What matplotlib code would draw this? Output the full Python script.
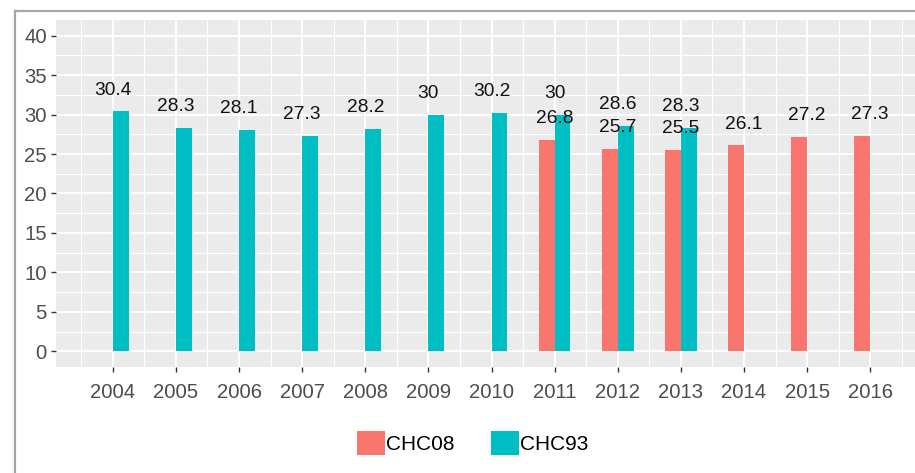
import matplotlib
matplotlib.use("Agg")
import matplotlib.pyplot as plt
from matplotlib.lines import Line2D
import numpy as np

# data
years_93 = [2004, 2005, 2006, 2007, 2008, 2009, 2010, 2011, 2012, 2013]
chc93 = [30.4, 28.3, 28.1, 27.3, 28.2, 30, 30.2, 30, 28.6, 28.3]
years_08 = [2011, 2012, 2013, 2014, 2015, 2016]
chc08 = [26.8, 25.7, 25.5, 26.1, 27.2, 27.3]
xticks = list(range(2004, 2017))
yticks = [0, 5, 10, 15, 20, 25, 30, 35, 40]

red = "#F8766D"
cyan = "#00BFC4"

plt.rcParams["font.family"] = ["Liberation Sans", "DejaVu Sans"]

W, H = 915, 473
fig = plt.figure(figsize=(W / 100, H / 100), dpi=100)
ax = fig.add_axes([55.7 / W, (H - 367) / H, (W - 55.7) / W, (367 - 20) / H])
ax.set_facecolor("#EBEBEB")

# grid
for x in xticks:
    ax.axvline(x, color="white", lw=1.4, zorder=0)
for x in np.arange(2003.5, 2017, 1):
    ax.axvline(x, color="white", lw=0.8, zorder=0)
for y in yticks:
    ax.axhline(y, color="white", lw=1.4, zorder=0)
for y in np.arange(-2.5, 42, 5):
    ax.axhline(y, color="white", lw=0.8, zorder=0)

b08 = ax.bar(np.array(years_08) - 0.125, chc08, width=0.25, color=red, zorder=2)
b93 = ax.bar(np.array(years_93) + 0.125, chc93, width=0.25, color=cyan, zorder=2)

for x, v in zip(years_93, chc93):
    ax.text(x, v + 2.7, f"{v:g}", ha="center", va="center", fontsize=13.8, color="#111111", zorder=3)
for x, v in zip(years_08, chc08):
    ax.text(x, v + 2.7, f"{v:g}", ha="center", va="center", fontsize=13.8, color="#111111", zorder=3)

ax.set_xlim(2003.095, 2016.71)
ax.set_ylim(-2, 42)
ax.set_xticks(xticks)
ax.set_xticklabels([str(x) for x in xticks])
ax.set_yticks(yticks)
ax.tick_params(axis="both", length=3.5, width=1, color="#333333", labelcolor="#4D4D4D",
               labelsize=14.6, pad=3)
ax.tick_params(axis="x", pad=8)
for s in ax.spines.values():
    s.set_visible(False)

fig.legend([b08, b93], ["CHC08", "CHC93"], ncol=2, loc="center",
           bbox_to_anchor=(473 / W, (H - 443) / H), frameon=False,
           fontsize=15, handlelength=1.35, handleheight=1.35,
           handletextpad=0.05, columnspacing=1.75)

# outer border of the screenshot
fig.add_artist(Line2D([15 / W, 15 / W], [0, (H - 11) / H], color="#A6A6A6", lw=1.6))
fig.add_artist(Line2D([15 / W, 1], [(H - 11) / H, (H - 11) / H], color="#A6A6A6", lw=1.6))

fig.savefig("out.png", dpi=100)
